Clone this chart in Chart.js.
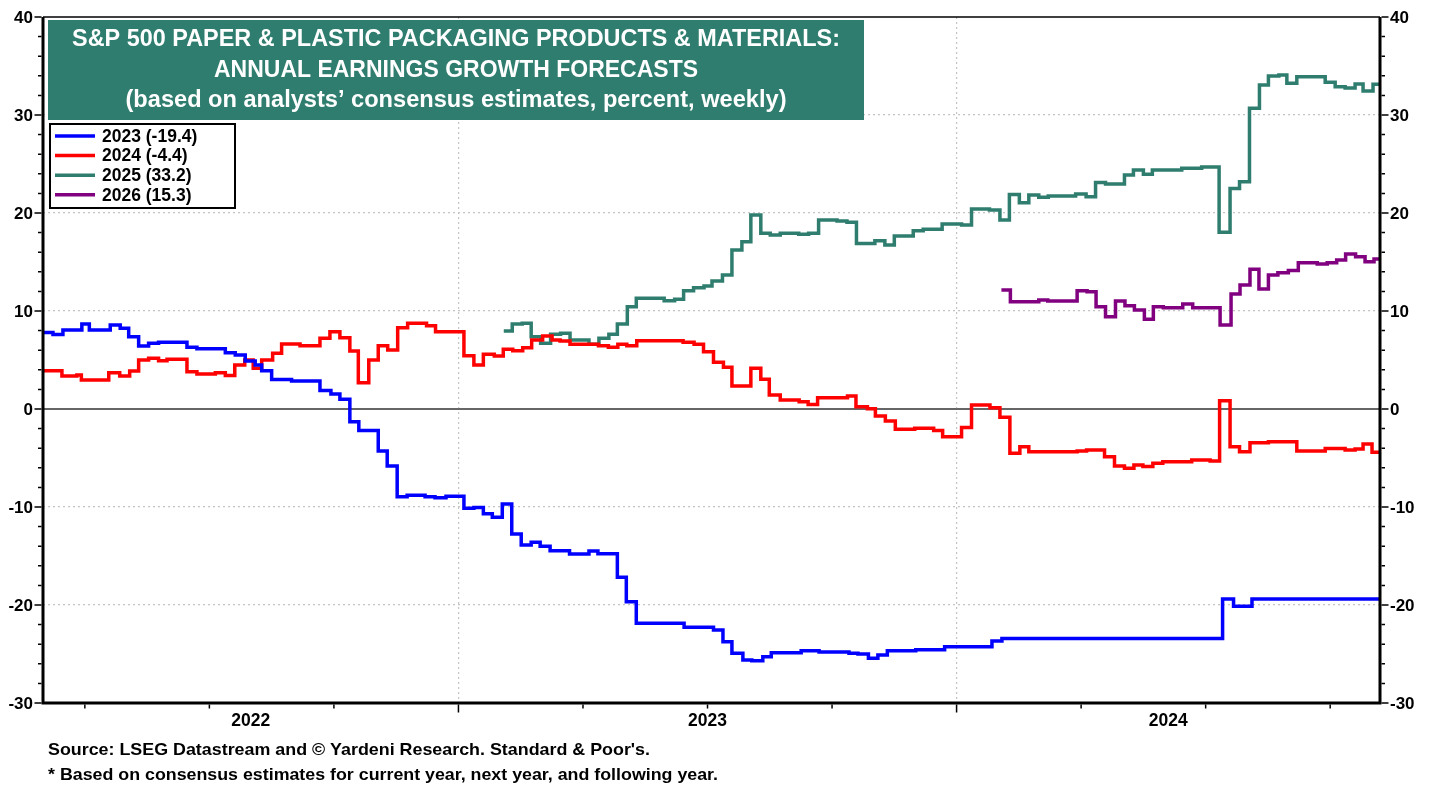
<!DOCTYPE html>
<html>
<head>
<meta charset="utf-8">
<script src="https://cdn.jsdelivr.net/npm/chart.js@4.4.0/dist/chart.umd.min.js"></script>
<style>
html,body{margin:0;padding:0;background:#ffffff;}
#wrap{position:relative;width:1438px;height:787px;}
canvas{display:block;}
</style>
</head>
<body>
<div id="wrap"><canvas id="c" width="1438" height="787"></canvas></div>
<script>
// ---------------- text ----------------
const TITLE_LINES = [
  'S&P 500 PAPER & PLASTIC PACKAGING PRODUCTS & MATERIALS:',
  'ANNUAL EARNINGS GROWTH FORECASTS',
  '(based on analysts\u2019 consensus estimates, percent, weekly)'
];
const SOURCE_LINES = [
  'Source: LSEG Datastream and \u00A9 Yardeni Research. Standard & Poor\'s.',
  '* Based on consensus estimates for current year, next year, and following year.'
];
const SERIES_LABELS = ['2023 (-19.4)', '2024 (-4.4)', '2025 (33.2)', '2026 (15.3)'];
const YEAR_LABELS = ['2022', '2023', '2024'];
const YEAR_STARTS = [2022, 2023, 2024, 2025];
const Y_LABEL_TICKS = [-30, -20, -10, 0, 10, 20, 30, 40];
const Y_GRID = [-20, -10, 10, 20, 30];
const Y_MINOR_TICKS = [-30,-28,-26,-24,-22,-20,-18,-16,-14,-12,-10,-8,-6,-4,-2,0,2,4,6,8,10,12,14,16,18,20,22,24,26,28,30,32,34,36,38,40];
const X_GRID = [2023, 2024];
const X_QUARTER_TICKS = [2022.25, 2022.5, 2022.75, 2023, 2023.25, 2023.5, 2023.75, 2024, 2024.25, 2024.5, 2024.75];
const X_MIN = 2022.166, X_MAX = 2024.85;
const Y_MIN = -30, Y_MAX = 40;

// ---------------- data (decimal year, percent) ----------------
const X_2023 = [2022.166,2022.186,2022.206,2022.244,2022.259,2022.301,2022.321,2022.338,2022.358,2022.378,
  2022.398,2022.455,2022.475,2022.532,2022.552,2022.572,2022.592,2022.605,2022.625,2022.665,
  2022.722,2022.744,2022.762,2022.782,2022.800,2022.839,2022.857,2022.877,2022.897,2022.933,
  2022.953,2022.975,2023.011,2023.031,2023.050,2023.068,2023.088,2023.107,2023.126,2023.146,
  2023.164,2023.184,2023.223,2023.262,2023.280,2023.319,2023.337,2023.357,2023.453,2023.512,
  2023.531,2023.549,2023.571,2023.589,2023.611,2023.628,2023.688,2023.724,2023.784,2023.802,
  2023.823,2023.842,2023.861,2023.918,2023.976,2024.071,2024.091,2024.534,2024.556,2024.593,2024.850];
const Y_2023 = [7.8,7.6,8.06,8.67,8.06,8.57,8.23,7.38,6.43,6.7,
  6.8,6.3,6.15,5.75,5.5,4.9,4.5,3.9,3.0,2.85,
  1.9,1.53,1.0,-1.3,-2.2,-4.29,-5.82,-8.95,-8.8,-8.95,
  -9.05,-8.9,-10.14,-10.05,-10.7,-11.05,-9.7,-12.76,-13.88,-13.6,
  -14.0,-14.46,-14.8,-14.5,-14.76,-17.18,-19.66,-21.87,-22.28,-22.55,
  -23.74,-24.93,-25.6,-25.7,-25.27,-24.86,-24.66,-24.8,-24.93,-25.0,
  -25.44,-25.1,-24.66,-24.56,-24.25,-23.67,-23.43,-19.4,-20.13,-19.4,-19.4];

const X_2024 = [2022.166,2022.204,2022.234,2022.243,2022.298,2022.320,2022.340,2022.358,2022.378,2022.398,
  2022.415,2022.455,2022.475,2022.512,2022.532,2022.551,2022.571,2022.588,2022.605,2022.627,
  2022.645,2022.682,2022.722,2022.742,2022.762,2022.782,2022.799,2022.820,2022.839,2022.858,
  2022.878,2022.898,2022.936,2022.954,
  2023.011,2023.031,2023.050,2023.072,2023.090,2023.109,2023.129,2023.147,2023.169,2023.188,
  2023.204,2023.224,2023.281,2023.301,2023.320,2023.338,2023.358,2023.451,2023.473,2023.492,
  2023.512,2023.532,2023.549,2023.587,2023.607,2023.624,2023.646,2023.684,2023.702,2023.721,
  2023.781,2023.798,2023.821,2023.837,2023.857,2023.877,2023.916,2023.954,2023.972,
  2024.010,2024.030,2024.067,2024.087,2024.107,2024.127,2024.145,2024.242,2024.261,2024.297,
  2024.317,2024.337,2024.356,2024.374,2024.394,2024.414,2024.472,2024.509,2024.528,2024.549,
  2024.568,2024.589,2024.626,2024.683,2024.740,2024.780,2024.800,2024.816,2024.834,2024.850];
const Y_2024 = [3.9,3.37,3.47,2.96,3.7,3.37,3.88,5.0,5.17,4.93,
  5.07,3.81,3.57,3.7,3.43,4.49,5.0,4.15,5.0,5.68,
  6.63,6.46,7.21,7.89,7.28,5.92,2.69,5.0,6.46,6.02,
  8.3,8.74,8.5,7.89,
  5.44,4.49,5.58,5.41,6.09,5.95,6.26,7.04,7.45,7.04,
  6.93,6.6,6.46,6.29,6.6,6.46,6.97,6.8,6.6,5.85,
  4.76,4.25,2.35,4.15,3.03,1.43,0.92,0.75,0.47,1.16,
  1.33,0.24,0.03,-0.71,-1.22,-2.07,-1.97,-2.2,-2.82,
  -1.9,0.41,0.14,-0.85,-4.52,-3.84,-4.35,-4.29,-4.18,-4.86,
  -5.82,-6.05,-5.71,-5.88,-5.54,-5.37,-5.2,-5.3,0.85,-3.84,
  -4.35,-3.44,-3.33,-4.29,-4.02,-4.18,-4.08,-3.57,-4.42,-4.42];

const X_2025 = [2023.091,2023.108,2023.128,2023.146,2023.165,2023.185,2023.205,2023.224,2023.262,2023.282,
  2023.302,2023.319,2023.339,2023.357,2023.413,2023.434,2023.452,2023.472,2023.493,2023.509,
  2023.530,2023.549,2023.569,2023.587,2023.607,2023.626,2023.646,2023.683,2023.703,2023.723,
  2023.760,2023.780,2023.799,2023.836,2023.856,2023.875,2023.913,2023.933,2023.971,
  2024.010,2024.030,2024.066,2024.087,2024.106,2024.126,2024.145,2024.165,2024.184,2024.239,
  2024.260,2024.279,2024.299,2024.337,2024.355,2024.375,2024.393,2024.452,2024.492,2024.527,
  2024.549,2024.568,2024.588,2024.608,2024.626,2024.647,2024.663,2024.683,2024.740,2024.760,
  2024.780,2024.800,2024.816,2024.836,2024.850];
const Y_2025 = [7.96,8.67,8.74,7.38,6.7,7.62,7.72,7.04,6.6,7.21,
  7.62,8.67,10.44,11.29,11.05,11.19,12.07,12.38,12.55,13.06,
  13.67,16.22,17.07,19.8,17.93,17.76,17.93,17.82,17.93,19.29,
  19.18,19.05,16.9,17.18,16.73,17.65,18.2,18.33,18.88,
  18.78,20.4,20.3,19.29,21.9,21.05,21.84,21.6,21.74,21.95,
  21.67,23.1,22.96,23.88,24.39,23.95,24.39,24.56,24.69,18.03,
  22.5,23.2,30.68,33.06,33.98,34.08,33.23,33.91,33.33,32.89,
  32.76,33.16,32.45,33.13,33.13];

const X_2026 = [2024.090,2024.108,2024.165,2024.183,2024.242,2024.262,2024.280,2024.299,2024.319,2024.338,
  2024.357,2024.377,2024.395,2024.415,2024.454,2024.474,2024.529,2024.551,2024.569,2024.589,
  2024.607,2024.626,2024.645,2024.666,2024.686,2024.724,2024.744,2024.763,2024.781,2024.801,
  2024.820,2024.838,2024.850];
const Y_2026 = [12.14,10.95,11.12,11.02,12.07,11.97,10.44,9.42,11.02,10.54,
  10.1,9.15,10.44,10.34,10.71,10.34,8.57,11.73,12.65,14.25,
  12.24,13.67,13.91,14.12,14.93,14.8,14.93,15.2,15.82,15.54,
  15.03,15.3,15.3];

const COLORS = ['#0000ff', '#ff0000', '#2f7d6e', '#800080'];
const TEAL = '#2f7d6e';
const FONT = "'Liberation Sans', Arial, Helvetica, sans-serif";

function zip(xs, ys){ return xs.map((x,i)=>({x:x, y:ys[i]})); }
const SERIES = [[X_2023,Y_2023],[X_2024,Y_2024],[X_2025,Y_2025],[X_2026,Y_2026]];

function fitText(ctx, text, cx, y, w, font, align){
  ctx.save();
  ctx.font = font;
  const m = ctx.measureText(text).width;
  const s = w / m;
  let left = cx;
  if (align === 'center') left = cx - w/2;
  else if (align === 'right') left = cx - w;
  ctx.translate(left, y);
  ctx.scale(s, 1);
  ctx.textAlign = 'left';
  ctx.fillText(text, 0, 0);
  ctx.restore();
}

const decor = {
  id: 'decor',
  beforeDatasetsDraw(chart){
    const {ctx, chartArea:a, scales} = chart;
    const y0 = scales.y.getPixelForValue(0);
    ctx.save();
    ctx.strokeStyle = '#666666';
    ctx.lineWidth = 2;
    ctx.beginPath(); ctx.moveTo(a.left, y0); ctx.lineTo(a.right, y0); ctx.stroke();
    ctx.restore();
  },
  afterDraw(chart){
    const {ctx, chartArea:a, scales} = chart;
    const xs = scales.x, ys = scales.y, ys2 = scales.y2;
    ctx.save();
    // frame
    ctx.strokeStyle = '#000';
    ctx.lineWidth = 1.5;
    ctx.beginPath(); ctx.moveTo(a.left, a.top); ctx.lineTo(a.right, a.top); ctx.stroke();
    ctx.lineWidth = 3;
    ctx.beginPath();
    ctx.moveTo(a.left, a.top); ctx.lineTo(a.left, a.bottom);
    ctx.moveTo(a.right, a.top); ctx.lineTo(a.right, a.bottom);
    ctx.moveTo(a.left-1.5, a.bottom); ctx.lineTo(a.right+1.5, a.bottom);
    ctx.stroke();
    // y ticks
    ctx.lineWidth = 1.5;
    ctx.beginPath();
    Y_MINOR_TICKS.forEach(v => {
      const p = ys.getPixelForValue(v);
      const len = (v % 10 === 0) ? 7 : 3.5;
      ctx.moveTo(a.left - 1.5, p); ctx.lineTo(a.left - 1.5 - len, p);
      const p2 = ys2.getPixelForValue(v);
      ctx.moveTo(a.right + 1.5, p2); ctx.lineTo(a.right + 1.5 + len, p2);
    });
    // x ticks
    X_QUARTER_TICKS.forEach(v => {
      const p = xs.getPixelForValue(v);
      const len = Number.isInteger(v) ? 8 : 4;
      ctx.moveTo(p, a.bottom + 1.5); ctx.lineTo(p, a.bottom + 1.5 + len);
    });
    ctx.stroke();
    // y labels
    ctx.fillStyle = '#000';
    ctx.font = 'bold 17px ' + FONT;
    ctx.textBaseline = 'middle';
    Y_LABEL_TICKS.forEach(v => {
      ctx.textAlign = 'right';
      ctx.fillText(String(v), a.left - 10, ys.getPixelForValue(v) + 1);
      ctx.textAlign = 'left';
      ctx.fillText(String(v), a.right + 10, ys2.getPixelForValue(v) + 1);
    });
    // year labels centred on the visible part of each year
    ctx.textAlign = 'center';
    ctx.font = 'bold 17.5px ' + FONT;
    YEAR_LABELS.forEach((lab, i) => {
      const l = xs.getPixelForValue(Math.max(YEAR_STARTS[i], X_MIN));
      const r = xs.getPixelForValue(Math.min(YEAR_STARTS[i+1], X_MAX));
      ctx.fillText(lab, (l + r) / 2, 721);
    });
    // footnotes
    ctx.textBaseline = 'middle';
    fitText(ctx, SOURCE_LINES[0], 48, 750, 602, 'bold 17px ' + FONT, 'left');
    fitText(ctx, SOURCE_LINES[1], 48, 775, 670, 'bold 17px ' + FONT, 'left');
    // title box
    ctx.fillStyle = TEAL;
    ctx.fillRect(48, 20, 816, 100);
    ctx.fillStyle = '#ffffff';
    ctx.textBaseline = 'alphabetic';
    fitText(ctx, TITLE_LINES[0], 456, 46, 768, 'bold 23px ' + FONT, 'center');
    fitText(ctx, TITLE_LINES[1], 456, 77, 484, 'bold 23px ' + FONT, 'center');
    fitText(ctx, TITLE_LINES[2], 456, 107, 661, 'bold 23px ' + FONT, 'center');
    // legend
    ctx.fillStyle = '#ffffff';
    ctx.fillRect(50, 124, 185, 84);
    ctx.strokeStyle = '#000';
    ctx.lineWidth = 2;
    ctx.strokeRect(50, 124, 185, 84);
    chart.data.datasets.forEach((ds, i) => {
      const yy = 136 + i * 19.6;
      ctx.strokeStyle = ds.borderColor;
      ctx.lineWidth = 3.5;
      ctx.beginPath(); ctx.moveTo(55, yy); ctx.lineTo(95, yy); ctx.stroke();
      ctx.fillStyle = '#000';
      ctx.font = 'bold 17.5px ' + FONT;
      ctx.textAlign = 'left';
      ctx.textBaseline = 'middle';
      ctx.fillText(ds.label, 102, yy + 1);
    });
    ctx.restore();
  }
};

const datasets = SERIES.map((s, i) => ({
  label: SERIES_LABELS[i],
  data: zip(s[0], s[1]),
  borderColor: COLORS[i],
  backgroundColor: COLORS[i],
  borderWidth: 3.5,
  pointRadius: 0,
  stepped: true,
  fill: false,
  yAxisID: 'y'
}));

new Chart(document.getElementById('c'), {
  type: 'line',
  data: { datasets },
  options: {
    responsive: false,
    animation: false,
    devicePixelRatio: 1,
    layout: { padding: { left: 43, right: 58, top: 17, bottom: 84 } },
    plugins: { legend: { display: false }, tooltip: { enabled: false }, title: { display: false } },
    scales: {
      x: {
        type: 'linear', min: X_MIN, max: X_MAX,
        afterBuildTicks: s => { s.ticks = X_GRID.map(v => ({ value: v })); },
        afterFit: s => { s.height = 0; },
        ticks: { display: false },
        grid: { color: '#c4c4c4', lineWidth: 1.2, drawTicks: false },
        border: { display: false, dash: [2, 3] }
      },
      y: {
        type: 'linear', position: 'left', min: Y_MIN, max: Y_MAX,
        afterBuildTicks: s => { s.ticks = Y_GRID.map(v => ({ value: v })); },
        afterFit: s => { s.width = 0; },
        ticks: { display: false },
        grid: { color: '#c4c4c4', lineWidth: 1.2, drawTicks: false },
        border: { display: false, dash: [2, 3] }
      },
      y2: {
        type: 'linear', position: 'right', min: Y_MIN, max: Y_MAX,
        afterBuildTicks: s => { s.ticks = Y_LABEL_TICKS.map(v => ({ value: v })); },
        afterFit: s => { s.width = 0; },
        ticks: { display: false },
        grid: { display: false, drawTicks: false },
        border: { display: false }
      }
    }
  },
  plugins: [decor]
});
</script>
</body>
</html>
